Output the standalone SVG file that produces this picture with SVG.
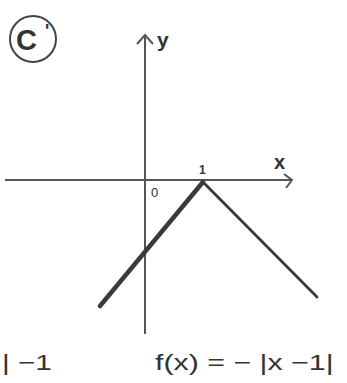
<svg xmlns="http://www.w3.org/2000/svg" width="347" height="383" viewBox="0 0 347 383">
<style>
.axis{stroke:#555;stroke-width:2;fill:none}
.graph{stroke:#3a3a3a;fill:none;stroke-linecap:round}
.lbl{font-family:"Liberation Sans",Arial,sans-serif;fill:#333}
.bold{font-weight:bold}
</style>
<rect width="347" height="383" fill="#fff"/>
<g id="badge">
<circle cx="33" cy="39" r="23" fill="none" stroke="#444" stroke-width="2"/>
<text class="lbl bold" x="16" y="50" font-size="29">C</text>
<text class="lbl bold" x="45" y="37" font-size="18">'</text>
</g>
<g id="connectors">
<line class="axis" x1="5" y1="180" x2="292" y2="180"/>
<polyline class="axis" points="284,174 292,180 286,188"/>
<line class="axis" x1="145" y1="37" x2="145" y2="334"/>
<polyline class="axis" points="137,44 145,35 153,44"/>
<line class="graph" x1="100" y1="306" x2="203" y2="182" stroke-width="4.5"/>
<line class="graph" x1="203" y1="182" x2="317" y2="297" stroke-width="2.8"/>
</g>
<g id="labels">
<text class="lbl bold" x="157" y="47" font-size="21">y</text>
<text class="lbl bold" x="274" y="169" font-size="20">x</text>
<text class="lbl bold" x="199" y="174" font-size="12">1</text>
<text class="lbl" x="151" y="197" font-size="13">0</text>
<text class="lbl" font-size="22" transform="translate(2,370) scale(1.35,1)">| −1</text>
<text class="lbl" font-size="22" transform="translate(155,370) scale(1.38,1)">f(x) = − |x −1|</text>
</g>
</svg>
